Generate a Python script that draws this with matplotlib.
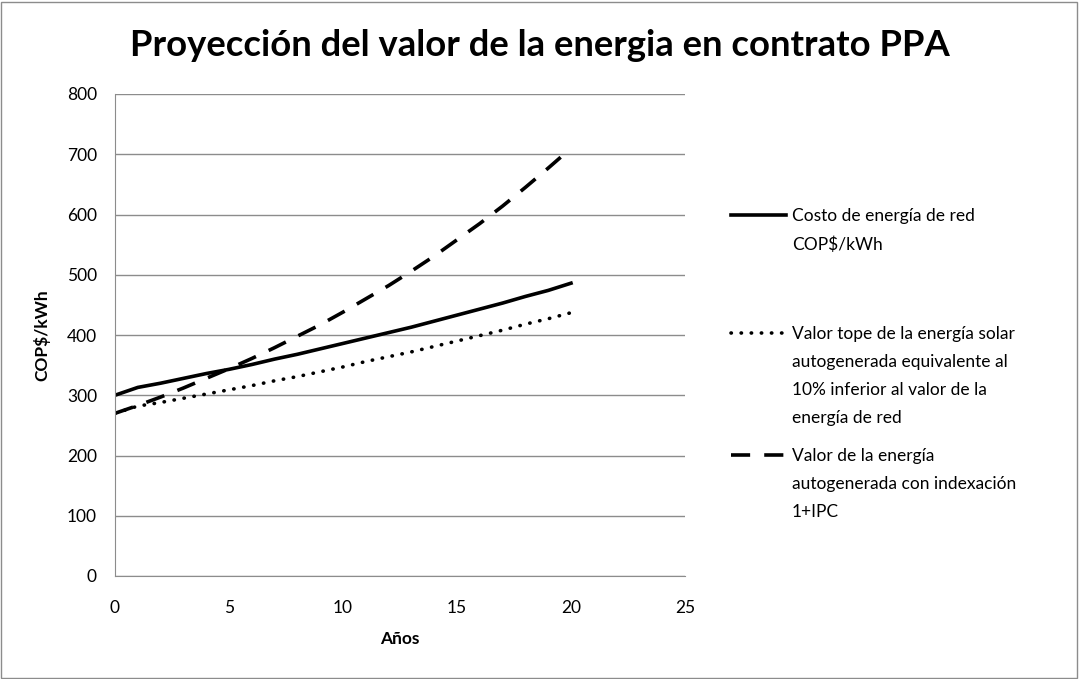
import matplotlib
matplotlib.use("Agg")
import matplotlib.pyplot as plt
from matplotlib.patches import Rectangle

plt.rcParams['font.family'] = ['Lato', 'DejaVu Sans']

years = list(range(21))
costo_red = [300, 313, 320, 328, 336, 343, 351, 360, 368, 377, 386,
             395, 404, 413, 423, 433, 443, 453, 464, 474, 486]
tope_solar = [270, 282, 288, 295, 302, 309, 316, 324, 331, 339, 347,
              356, 364, 372, 381, 390, 399, 408, 418, 427, 437]
valor_ipc = [270, 283, 297, 312, 328, 344, 361, 379, 398, 417, 438,
             460, 482, 506, 531, 558, 585, 614, 645, 677, 710]

labels = ["Costo de energía de red\nCOP$/kWh",
          "Valor tope de la energía solar\nautogenerada equivalente al\n10% inferior al valor de la\nenergía de red",
          "Valor de la energía\nautogenerada con indexación\n1+IPC"]

W, H = 1079, 679
fig = plt.figure(figsize=(W / 100, H / 100), dpi=100)
ax = fig.add_axes([115 / W, 1 - 576 / H, 570 / W, 482 / H])

styles = [dict(ls='-'),
          dict(ls=(0, (0.1, 2.7)), dash_capstyle='round'),
          dict(ls=(0, (5.3, 3.9)))]
series = [costo_red, tope_solar, valor_ipc]
for s, st in zip(series, styles):
    ax.plot(years, s, color='black', lw=2.6, **st)

ax.set_xlim(0, 25)
ax.set_ylim(0, 800)
ax.set_xticks(range(0, 26, 5))
ax.set_yticks(range(0, 801, 100))
ax.grid(axis='y', color='#8c8c8c', lw=1)
ax.set_axisbelow(True)
for sp in ['top', 'right']:
    ax.spines[sp].set_visible(False)
for sp in ['left', 'bottom']:
    ax.spines[sp].set_color('#8c8c8c')
ax.tick_params(axis='both', length=0, labelsize=12.5)
ax.tick_params(axis='x', pad=17)
ax.tick_params(axis='y', pad=13)
ax.set_xlabel('Años', fontsize=12.5, fontweight='bold', va='top')
ax.set_ylabel('COP$/kWh', fontsize=12.5, fontweight='bold')
ax.xaxis.set_label_coords(0.5, -0.115)
ax.yaxis.set_label_coords(-0.113, 0.5)

fig.text(540 / W, 1 - 45 / H, 'Proyección del valor de la energia en contrato PPA',
         ha='center', va='center', fontsize=26.2, fontweight='bold')

# legend drawn by hand so the handle sits on the first text line
lax = fig.add_axes([0, 0, 1, 1], facecolor='none')
lax.set_xlim(0, W)
lax.set_ylim(H, 0)
lax.axis('off')
entry_y = [215, 333, 455]
for lab, st, yy in zip(labels, styles, entry_y):
    lax.plot([731, 786], [yy, yy], color='black', lw=2.6, **st)
    lax.text(792, yy - 7, lab, ha='left', va='top', fontsize=12.5,
             linespacing=1.92)

fig.add_artist(Rectangle((1 / W, 1 / H), 1 - 3 / W, 1 - 3 / H,
                         transform=fig.transFigure, fill=False,
                         edgecolor='#8c8c8c', lw=1))

fig.savefig('out.png', dpi=100)
